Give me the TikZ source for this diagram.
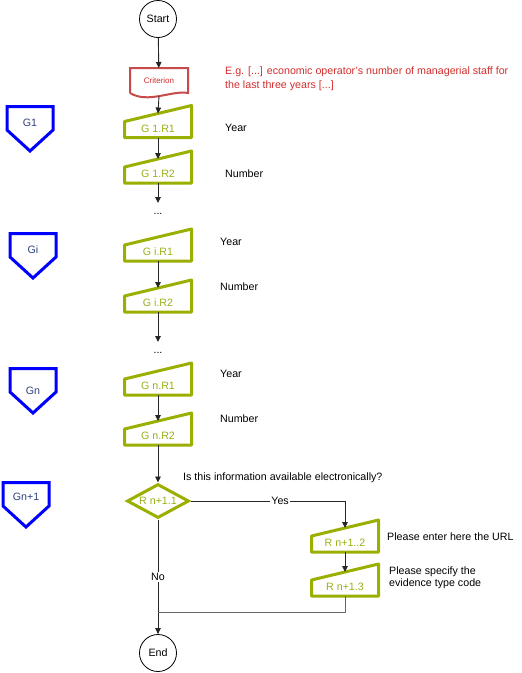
\documentclass[tikz,border=0pt]{standalone}
\usepackage{fontspec}
\setmainfont{Liberation Sans}
\usetikzlibrary{arrows.meta,shapes.geometric,calc}
\definecolor{gline}{RGB}{155,175,0}
\definecolor{gtxt}{RGB}{150,178,20}
\definecolor{critc}{RGB}{200,75,75}
\definecolor{redtxt}{RGB}{210,45,45}
\definecolor{pblue}{RGB}{0,0,255}
\definecolor{ptxt}{RGB}{45,65,125}

% manual input shape: name, x, bottom, text
\newcommand\manin[4]{%
  \node[minput, label={[gtext,yshift=-7pt]center:#4}] (#1) at (#2,#3-16) {};
  \draw[gshape] (#1.south west) -- (#1.west) -- (#1.north east) -- (#1.south east) -- cycle;}
% pentagon: name, cx, top, texty, text
\newcommand\mypent[5]{%
  \draw[pshape] (#2-23,#3+1.5) -- (#2+23,#3+1.5) -- (#2+23,#3+25) -- (#2,#3+46) -- (#2-23,#3+25) -- cycle;
  \node[ptext] (#1) at (#2,#4) {#5};}

\begin{document}
\begin{tikzpicture}[x=1pt,y=-1pt,
  every node/.style={font=\fontsize{10.67}{13}\selectfont},
  conn/.style={draw=black!85, line width=0.9pt},
  arr/.style={conn, -{Triangle[length=6pt,width=5.5pt]}},
  circ/.style={circle, draw, line width=0.8pt, minimum size=37pt, inner sep=0},
  minput/.style={rectangle, minimum width=67pt, minimum height=32pt, inner sep=0, outer sep=0},
  gshape/.style={draw=gline, line width=3pt, line join=round},
  gtext/.style={text=gtxt, inner sep=0},
  ptext/.style={text=ptxt, inner sep=1pt},
  pshape/.style={draw=pblue, line width=3pt},
  lbl/.style={anchor=west, inner sep=0, text height=8pt, text depth=2pt},
  dotsn/.style={anchor=north, inner sep=0, text height=11pt, text depth=0pt},
  onl/.style={fill=white, inner sep=1pt}]

\useasboundingbox (0,0) rectangle (522,673);

\node[circ] (start) at (158,19) {Start};
\node[rectangle, minimum width=58pt, minimum height=25pt, inner sep=0, outer sep=0, text=redtxt, font=\fontsize{8}{9}\selectfont] (crit) at (159,80.5) {Criterion};
\draw[draw=critc, line width=2pt] (crit.south west) -- (crit.north west) -- (crit.north east) -- (crit.south east)
  .. controls ($(crit.south east)+(-16,-3)$) and ($(crit.south west)+(18,11)$) .. (crit.south west);
\node[anchor=west, inner sep=0, align=left, text=redtxt, font=\fontsize{10.67}{14}\selectfont] (eg) at (225,79)
  {E.g. [...] economic operator’s number of managerial staff for\\the last three years [...]};

\manin{g1r1}{158}{137.5}{G 1.R1}
\manin{g1r2}{158}{183}{G 1.R2}
\node[dotsn] (d1) at (158,203) {...};
\manin{gir1}{158}{261}{G i.R1}
\manin{gir2}{158}{312}{G i.R2}
\node[dotsn] (d2) at (158,342) {...};
\manin{gnr1}{158}{395}{G n.R1}
\manin{gnr2}{158}{445}{G n.R2}

\node[diamond, draw=gline, line width=3pt, aspect=1.74, minimum width=62pt, minimum height=34pt, inner sep=0, text=gtxt] (dia) at (158,501) {R n+1.1};
\manin{rn2}{345}{552}{R n+1..2}
\manin{rn3}{345}{596}{R n+1.3}
\node[circ] (endc) at (158,653) {End};

\node[lbl] (y1) at (225,128) {Year};
\node[lbl] (n1) at (225,174) {Number};
\node[lbl] (y2) at (220,242) {Year};
\node[lbl] (n2) at (220,287) {Number};
\node[lbl] (y3) at (220,374) {Year};
\node[lbl] (n3) at (220,419) {Number};
\node[lbl] (q) at (183,477) {Is this information available electronically?};
\node[lbl] (url) at (387,537) {Please enter here the URL};
\node[anchor=west, inner sep=0, align=left, font=\fontsize{10.67}{12}\selectfont] (ev) at (389,578) {Please specify the\\evidence type code};

\mypent{pg1}{30}{105}{123}{G1}
\mypent{pgi}{33}{232}{250}{Gi}
\mypent{pgn}{33}{367}{391}{Gn}
\mypent{pgn1}{26}{481}{497}{Gn+1}

\draw[arr] (start) -- (crit);
\draw[arr] ([yshift=-3pt]crit.south) -- ([yshift=-8pt]g1r1.north);
\draw[arr] (g1r1.south) -- ([yshift=-8pt]g1r2.north);
\draw[arr] (g1r2.south) -- (d1);
\draw[arr] (gir1.south) -- ([yshift=-8pt]gir2.north);
\draw[arr] (gir2.south) -- (d2);
\draw[arr] (gnr1.south) -- ([yshift=-8pt]gnr2.north);
\draw[arr] (gnr2.south) -- (dia);
\draw[arr] (dia.east) -| node[pos=0.29, onl] (yes) {Yes} ([yshift=-8pt]rn2.north);
\draw[arr] (rn2.south) -- ([yshift=-8pt]rn3.north);
\coordinate (join) at (158,612);
\draw[arr] (dia.south) -- node[onl] (no) {No} (endc);
\draw[conn, draw=black!60] (rn3.south) |- (join);
\end{tikzpicture}
\end{document}
